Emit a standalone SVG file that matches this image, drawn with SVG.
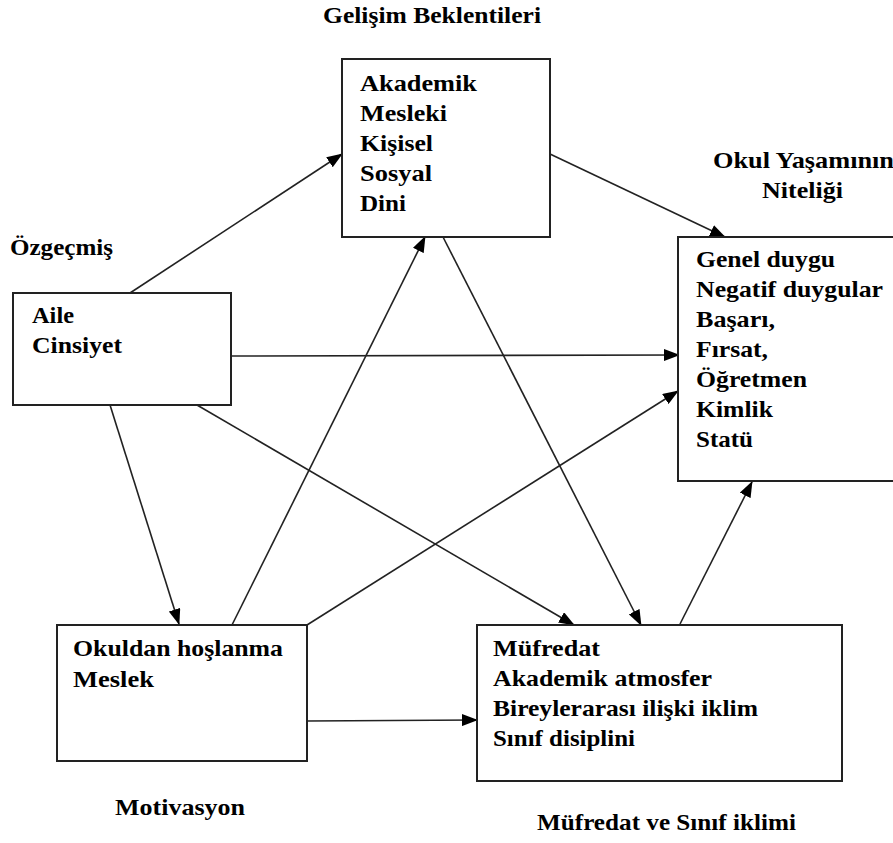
<svg xmlns="http://www.w3.org/2000/svg" width="893" height="843" viewBox="0 0 893 843">
<defs>
<style>
text{font-family:"Liberation Serif","Times New Roman",serif;font-weight:bold;font-size:23px;fill:#000}
.box{fill:#fff;stroke:#222;stroke-width:2}
.edge{stroke:#222;stroke-width:1.6;fill:none;marker-end:url(#arr)}
</style>
<marker id="arr" markerUnits="userSpaceOnUse" markerWidth="16" markerHeight="12" viewBox="0 0 16 12" refX="15" refY="6" orient="auto">
<path d="M0,0 L16,6 L0,12 Z" fill="#000"/>
</marker>
</defs>
<rect width="893" height="843" fill="#fff"/>
<g id="titles">
<text x="323" y="23" textLength="218" lengthAdjust="spacingAndGlyphs">Gelişim Beklentileri</text>
<text x="713" y="168" textLength="181" lengthAdjust="spacingAndGlyphs">Okul Yaşamının</text>
<text x="762" y="198" textLength="81" lengthAdjust="spacingAndGlyphs">Niteliği</text>
<text x="10" y="255" textLength="103" lengthAdjust="spacingAndGlyphs">Özgeçmiş</text>
<text x="115" y="815" textLength="130" lengthAdjust="spacingAndGlyphs">Motivasyon</text>
<text x="537" y="830" textLength="259" lengthAdjust="spacingAndGlyphs">Müfredat ve Sınıf iklimi</text>
</g>
<g id="connectors">
<line class="edge" x1="130" y1="293" x2="342" y2="154"/>
<line class="edge" x1="550" y1="154" x2="725" y2="237"/>
<line class="edge" x1="231" y1="356" x2="679" y2="355"/>
<line class="edge" x1="110" y1="405" x2="179" y2="624"/>
<line class="edge" x1="197" y1="405" x2="574" y2="625"/>
<line class="edge" x1="232" y1="625" x2="425" y2="237"/>
<line class="edge" x1="307" y1="625" x2="678" y2="391"/>
<line class="edge" x1="443" y1="237" x2="641" y2="625"/>
<line class="edge" x1="680" y1="624" x2="752" y2="482"/>
<line class="edge" x1="307" y1="721" x2="477" y2="720"/>
</g>
<g id="gelisim">
<rect class="box" x="342" y="59" width="208" height="178"/>
<text x="360" y="91" textLength="117" lengthAdjust="spacingAndGlyphs">Akademik</text>
<text x="360" y="121" textLength="87" lengthAdjust="spacingAndGlyphs">Mesleki</text>
<text x="360" y="151" textLength="73" lengthAdjust="spacingAndGlyphs">Kişisel</text>
<text x="360" y="181" textLength="72" lengthAdjust="spacingAndGlyphs">Sosyal</text>
<text x="360" y="211" textLength="46" lengthAdjust="spacingAndGlyphs">Dini</text>
</g>
<g id="okul">
<rect class="box" x="678" y="237" width="230" height="244"/>
<text x="696" y="267" textLength="139" lengthAdjust="spacingAndGlyphs">Genel duygu</text>
<text x="696" y="297" textLength="187" lengthAdjust="spacingAndGlyphs">Negatif duygular</text>
<text x="696" y="327" textLength="79" lengthAdjust="spacingAndGlyphs">Başarı,</text>
<text x="696" y="357" textLength="72" lengthAdjust="spacingAndGlyphs">Fırsat,</text>
<text x="696" y="387" textLength="111" lengthAdjust="spacingAndGlyphs">Öğretmen</text>
<text x="696" y="417" textLength="77" lengthAdjust="spacingAndGlyphs">Kimlik</text>
<text x="696" y="447" textLength="57" lengthAdjust="spacingAndGlyphs">Statü</text>
</g>
<g id="ozgecmis">
<rect class="box" x="13" y="293" width="218" height="112"/>
<text x="32" y="323" textLength="42" lengthAdjust="spacingAndGlyphs">Aile</text>
<text x="32" y="353" textLength="90" lengthAdjust="spacingAndGlyphs">Cinsiyet</text>
</g>
<g id="motivasyon">
<rect class="box" x="57" y="625" width="250" height="136"/>
<text x="73" y="656" textLength="210" lengthAdjust="spacingAndGlyphs">Okuldan hoşlanma</text>
<text x="73" y="687" textLength="81" lengthAdjust="spacingAndGlyphs">Meslek</text>
</g>
<g id="mufredat">
<rect class="box" x="477" y="625" width="365" height="156"/>
<text x="493" y="656" textLength="107" lengthAdjust="spacingAndGlyphs">Müfredat</text>
<text x="493" y="686" textLength="219" lengthAdjust="spacingAndGlyphs">Akademik atmosfer</text>
<text x="493" y="716" textLength="265" lengthAdjust="spacingAndGlyphs">Bireylerarası ilişki iklim</text>
<text x="493" y="746" textLength="142" lengthAdjust="spacingAndGlyphs">Sınıf disiplini</text>
</g>
</svg>
